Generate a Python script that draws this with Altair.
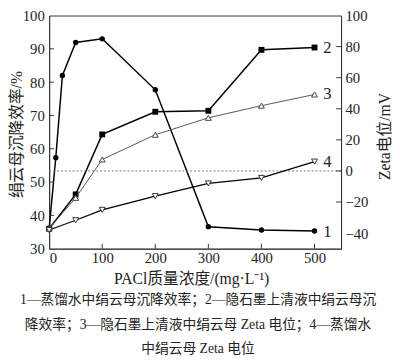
import altair as alt
import pandas as pd

# ---- data ----
conc_water = [0, 12.5, 25, 50, 100, 200, 300, 400, 500]
eff_water = [36.0, 57.3, 82.0, 91.9, 93.0, 77.7, 36.6, 35.6, 35.3]   # series 1 (left axis)
conc = [0, 50, 100, 200, 300, 400, 500]
eff_super = [36.0, 46.3, 64.3, 71.1, 71.4, 89.7, 90.4]             # series 2 (left axis)
zeta_super = [-37.0, -17.3, 7.4, 23.3, 34.2, 42.0, 49.2]           # series 3 (right axis)
zeta_water = [-38.0, -31.7, -25.0, -16.2, -8.0, -4.5, 6.0]          # series 4 (right axis)

x_ticks = [0, 100, 200, 300, 400, 500]
left_ticks = [30, 40, 50, 60, 70, 80, 90, 100]
right_ticks = [-40, -20, 0, 20, 40, 60, 80, 100]
series_labels = ["1", "2", "3", "4"]
x_title = "PACl质量浓度/(mg·L⁻¹)"
left_title = "绢云母沉降效率/%"
right_title = "Zeta电位/mV"
caption_lines = [
    "1—蒸馏水中绢云母沉降效率；2—隐石墨上清液中绢云母沉",
    "降效率；3—隐石墨上清液中绢云母 Zeta 电位；4—蒸馏水",
    "中绢云母 Zeta 电位",
]

W, H = 298, 238
FONT = "Liberation Serif, Noto Sans CJK SC"
INK = "#222222"

xenc = alt.X(
    "c:Q",
    scale=alt.Scale(domain=[0, 550], nice=False, zero=False),
    axis=alt.Axis(values=x_ticks, title=x_title, labelPadding=2,
                  titleX=145, titleY=31, titleBaseline="middle", titleAlign="center"),
)
yL = alt.Y(
    "v:Q",
    scale=alt.Scale(domain=[30, 100], nice=False, zero=False),
    axis=alt.Axis(values=left_ticks, title=left_title, orient="left", labelPadding=5,
                  titleAngle=270, titleX=-33, titleY=121,
                  titleBaseline="middle", titleAlign="center"),
)
yR = alt.Y(
    "v:Q",
    scale=alt.Scale(domain=[-50, 100], nice=False, zero=False),
    axis=alt.Axis(values=right_ticks, title=right_title, orient="right", labelPadding=4,
                  titleAngle=270, titleX=44, titleY=123,
                  titleBaseline="middle", titleAlign="center"),
)

d1 = pd.DataFrame({"c": conc_water, "v": eff_water})
d2 = pd.DataFrame({"c": conc, "v": eff_super})
d3 = pd.DataFrame({"c": conc, "v": zeta_super})
d4 = pd.DataFrame({"c": conc, "v": zeta_water})

# left group
s1_line = alt.Chart(d1).mark_line(color="black", strokeWidth=1.5).encode(x=xenc, y=yL)
s1_pts = alt.Chart(d1).mark_point(shape="circle", filled=True, color="black", size=30, opacity=1).encode(x=xenc, y=yL)
s2_line = alt.Chart(d2).mark_line(color="black", strokeWidth=1.5).encode(x=xenc, y=yL)
s2_pts = alt.Chart(d2).mark_point(shape="square", filled=True, color="black", size=36, opacity=1).encode(x=xenc, y=yL)
lt = alt.Chart(pd.DataFrame({"v": left_ticks[1:-1]})).mark_rule(color="#333", strokeWidth=1).encode(
    y=yL, x=alt.value(0), x2=alt.value(5))
bt = alt.Chart(pd.DataFrame({"c": x_ticks[1:]})).mark_rule(color="#333", strokeWidth=1).encode(
    x=xenc, y=alt.value(H - 5), y2=alt.value(H))
lab_left = alt.Chart(pd.DataFrame({"c": [500, 500], "v": [eff_water[-1], eff_super[-1]],
                                   "t": series_labels[:2]})).mark_text(
    align="left", baseline="middle", dx=9, dy=1, fontSize=17, font=FONT, color=INK).encode(
    x=xenc, y=yL, text="t:N")
left = alt.layer(s1_line, s2_line, s1_pts, s2_pts, lt, bt, lab_left)

# right group
zero_line = alt.Chart(pd.DataFrame({"v": [0]})).mark_rule(
    color="#777", strokeWidth=1, strokeDash=[2, 2]).encode(y=yR, x=alt.value(0), x2=alt.value(W))
s3_line = alt.Chart(d3).mark_line(color="#555", strokeWidth=1).encode(x=xenc, y=yR)
s3_pts = alt.Chart(d3).mark_point(shape="triangle-up", filled=True, fill="white", stroke="#444",
                                  strokeWidth=1, size=36, opacity=1).encode(x=xenc, y=yR)
s4_line = alt.Chart(d4).mark_line(color="black", strokeWidth=1.3).encode(x=xenc, y=yR)
s4_pts = alt.Chart(d4).mark_point(shape="triangle-down", filled=True, fill="white", stroke="#333",
                                  strokeWidth=1, size=36, opacity=1).encode(x=xenc, y=yR)
rt = alt.Chart(pd.DataFrame({"v": right_ticks[1:-1]})).mark_rule(color="#333", strokeWidth=1).encode(
    y=yR, x=alt.value(W - 5), x2=alt.value(W))
lab_right = alt.Chart(pd.DataFrame({"c": [500, 500], "v": [zeta_super[-1], zeta_water[-1]],
                                    "t": series_labels[2:]})).mark_text(
    align="left", baseline="middle", dx=9, dy=0, fontSize=17, font=FONT, color=INK).encode(
    x=xenc, y=yR, text="t:N")
right = alt.layer(zero_line, s3_line, s4_line, s3_pts, s4_pts, rt, lab_right)

# caption
cap_y = [290, 316, 341]
caps = [
    alt.Chart(pd.DataFrame({"t": [line]})).mark_text(
        align="center", baseline="middle", fontSize=14, font=FONT, color=INK).encode(
        text="t:N", x=alt.value(152), y=alt.value(yy))
    for line, yy in zip(caption_lines, cap_y)
]

chart = alt.layer(left, right, *caps).resolve_scale(y="independent").properties(
    width=W, height=H,
    autosize=alt.AutoSizeParams(type="none"),
    padding={"left": 42, "top": 4, "right": 52, "bottom": 112},
).configure_axis(
    labelFont=FONT, titleFont=FONT, labelFontSize=15, titleFontSize=16,
    labelColor=INK, titleColor=INK, domainColor="#333", domainWidth=1,
    grid=False, ticks=False, tickSize=0, titleFontWeight="normal",
).configure_view(stroke="#333", strokeWidth=1)

chart.save("out.html", embed_options={"renderer": "svg", "actions": False})
